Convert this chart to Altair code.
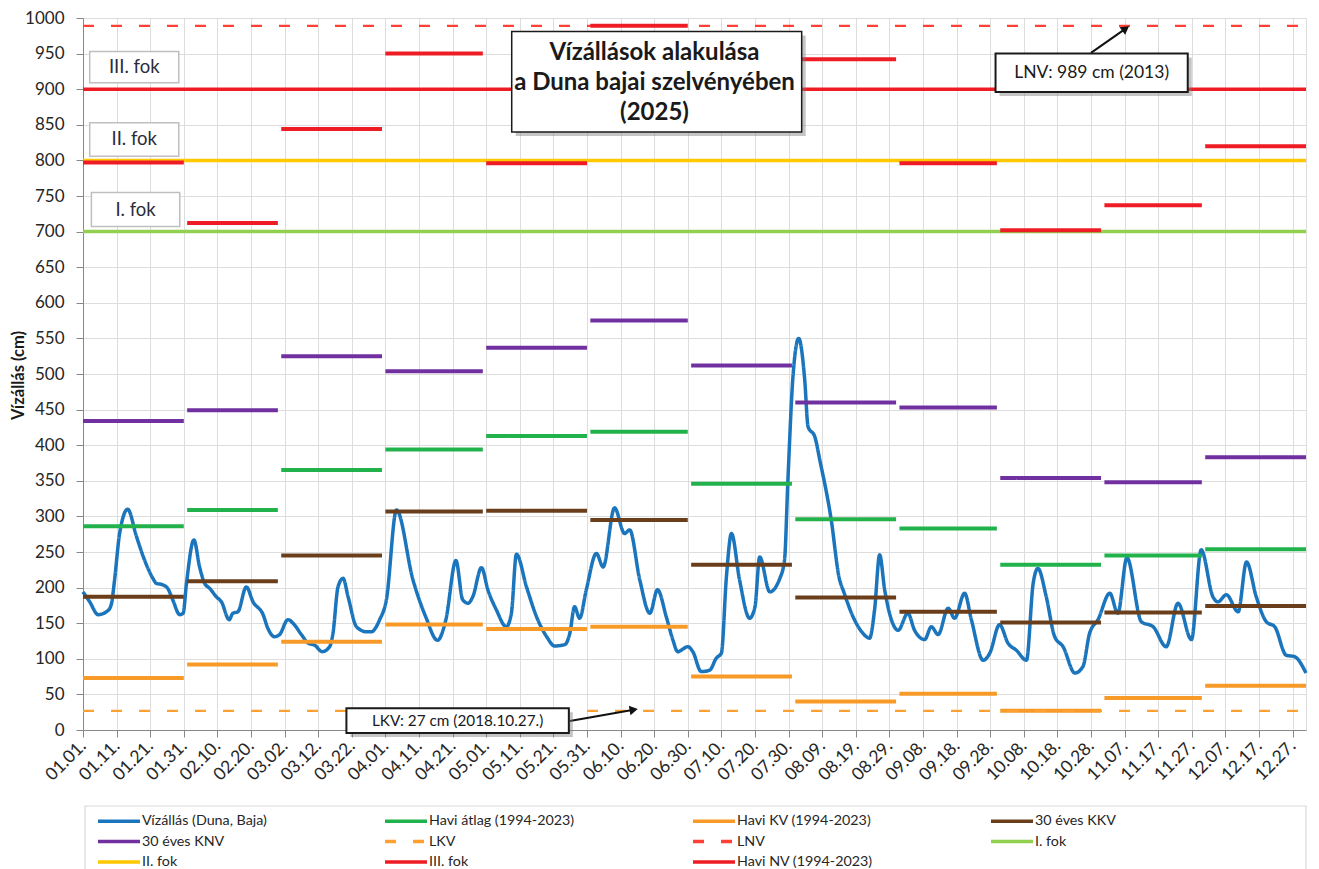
import altair as alt
import pandas as pd

# ---------------- data ----------------
tick_labels = ["01.01.", "01.11.", "01.21.", "01.31.", "02.10.", "02.20.", "03.02.", "03.12.",
               "03.22.", "04.01.", "04.11.", "04.21.", "05.01.", "05.11.", "05.21.", "05.31.",
               "06.10.", "06.20.", "06.30.", "07.10.", "07.20.", "07.30.", "08.09.", "08.19.",
               "08.29.", "09.08.", "09.18.", "09.28.", "10.08.", "10.18.", "10.28.", "11.07.",
               "11.17.", "11.27.", "12.07.", "12.17.", "12.27."]
tick_days = list(range(0, 361, 10))
y_ticks = list(range(0, 1001, 50))

# daily water level (Duna, Baja): day of year (0 = Jan 1) and cm
level_days = [0, 2, 4.5, 7.5, 8.5, 9.4, 10.9, 13.3, 15.9, 17.9, 20.8, 21.8, 23.7, 25.2, 26.7,
              28.8, 29.8, 30.8, 33, 34.7, 36.2, 37.7, 39.7, 41.2, 43.5, 44.6, 46.1, 48.6, 50.6,
              53.6, 55, 57, 58.5, 61, 62.5, 65, 67, 69, 71.2, 73.4, 74.4, 75.9, 77.4, 78.9, 81.4,
              84.3, 85.8, 88.3, 90.3, 93.3, 98.2, 102, 105.5, 108, 111, 113, 114.6, 116, 118.6,
              120.5, 123, 126, 127.5, 129, 132, 135, 138, 140.4, 143.4, 144.9, 146.3, 147.8,
              149.8, 152.8, 154.8, 158.2, 161.2, 162.7, 165.7, 168.7, 171, 173.6, 175.6, 177,
              180, 181.5, 184, 186.5, 188.5, 190, 191.5, 193, 195.4, 198.4, 200, 201.4, 204.4,
              207.4, 208.8, 209.8, 211.3, 213, 214.8, 215.8, 217.8, 219.3, 222.7, 225, 226.5,
              229.2, 232.1, 234.1, 235.6, 237.1, 238.6, 240.6, 242.6, 245.5, 247.5, 250.5, 252.5,
              254.5, 257.5, 259.4, 262.4, 264.4, 267.9, 269.9, 272.8, 275.3, 277.8, 280.8, 282.8,
              284.2, 286.7, 289.2, 291.7, 295.2, 297.6, 299.6, 302.1, 305.6, 308, 310.7, 315,
              318.5, 322.4, 325.9, 329.9, 332.8, 336.3, 337.8, 340.3, 343.8, 346.3, 349.2, 352.2,
              354.7, 358.1, 360.6, 364]
level_values = [194, 180, 162, 168, 178, 211, 276, 310, 272, 244, 213, 206, 204, 199, 183,
                162, 164, 206, 267, 229, 206, 199, 187, 180, 155, 164, 166, 201, 180,
                162, 143, 131, 134, 155, 150, 134, 122, 119, 110, 117, 136, 201, 213, 187, 145,
                138, 138, 155, 183, 309, 211, 159, 126, 155, 238, 183, 178, 187, 228,
                197, 169, 145, 164, 247, 201, 159, 131, 118, 120, 136, 173, 157,
                197, 248, 229, 312, 276, 281, 211, 164, 197, 159, 126, 110,
                117, 110, 82, 84, 101, 108, 215, 276, 211, 157, 173, 243, 194,
                213, 239, 351, 496, 550, 492, 426, 412, 379, 295, 215, 193,
                159, 136, 129, 169, 246, 197, 155, 140, 164, 140, 127, 145,
                134, 171, 157, 192, 155, 98, 108, 148, 122, 112, 98, 206,
                227, 187, 131, 117, 80, 89, 136, 155, 192, 164, 242, 152,
                145, 117, 178, 127, 253, 187, 180, 190, 166, 236, 187, 152,
                145, 105, 103, 80]

month_start = [0, 31, 59, 90, 120, 151, 181, 212, 243, 273, 304, 334]
month_end = [30, 58, 89, 119, 150, 180, 211, 242, 272, 303, 333, 364]

havi_atlag = [286, 309, 365, 394, 413, 419, 346, 296, 283, 232, 245, 254]
havi_kv = [73, 92, 124, 148, 142, 145, 75, 40, 51, 27, 45, 62]
kkv_30 = [187, 209, 245, 307, 308, 295, 232, 186, 166, 151, 165, 174]
knv_30 = [434, 449, 525, 504, 537, 575, 512, 460, 453, 354, 348, 383]
havi_nv = [797, 712, 844, 950, 796, 989, 900, 942, 796, 702, 737, 820]

lkv_value = 27
lnv_value = 989
fok_values = [700, 800, 900]

series = ["Vízállás (Duna, Baja)", "Havi átlag (1994-2023)", "Havi KV (1994-2023)",
          "30 éves KKV", "30 éves KNV", "LKV", "LNV", "I. fok", "II. fok", "III. fok",
          "Havi NV (1994-2023)"]
colors = ["#1B75BC", "#22B24C", "#F89A27", "#6B3E1B", "#7030A0", "#FFA030", "#FF4036",
          "#92D050", "#FFC800", "#EE1C25", "#EE1C25"]
dashes = [[1, 0], [1, 0], [1, 0], [1, 0], [1, 0], [11, 17], [11, 17], [1, 0], [1, 0], [1, 0], [1, 0]]

# annotation boxes (data coordinates: day, cm)
fok_box_labels = ["III. fok", "II. fok", "I. fok"]
fok_box_x = [2, 2, 2.5]
fok_box_x2 = [28.5, 28.5, 28.8]
fok_box_y = [953, 853, 755]
fok_box_y2 = [909, 806, 707]

title_lines = ["Vízállások alakulása", "a Duna bajai szelvényében", "(2025)"]
title_line_y = [951, 909, 867]
title_box = dict(x=127.6, x2=213.9, y=981, y2=840)
title_x = 170.1

lnv_text = "LNV: 989  cm (2013)"
lnv_box = dict(x=271.6, x2=328.8, y=950, y2=896)
lnv_text_pos = dict(tx=300.2, ty=923)
lnv_arrow = dict(x=300, x2=310, y=951, y2=984)

lkv_text = "LKV:  27 cm (2018.10.27.)"
lkv_box = dict(x=78.4, x2=144.6, y=30.5, y2=-4.2)
lkv_text_pos = dict(tx=111.5, ty=13.3)
lkv_arrow = dict(x=144.9, x2=163.5, y=12.6, y2=28.1)

# ---------------- tables ----------------
level_df = pd.DataFrame({"day": level_days, "value": level_values, "series": series[0]})

monthly_rows = []
for name, vals in [(series[1], havi_atlag), (series[2], havi_kv), (series[3], kkv_30),
                   (series[4], knv_30)]:
    for s, e, v in zip(month_start, month_end, vals):
        monthly_rows.append({"series": name, "start": s, "end": e, "value": v})
monthly_df = pd.DataFrame(monthly_rows)
nv_df = pd.DataFrame({"series": series[10], "start": month_start, "end": month_end, "value": havi_nv})

dashed_df = pd.DataFrame({"series": ["LKV", "LNV"], "start": [0, 0], "end": [364, 364],
                          "value": [lkv_value, lnv_value]})
fok_df = pd.DataFrame({"series": ["I. fok", "II. fok", "III. fok"], "start": [0] * 3,
                       "end": [364] * 3, "value": fok_values})

FONT = "Lato"
label_expr = "[" + ",".join("'" + t + "'" for t in tick_labels) + "][round(datum.value/10)]"

x_scale = alt.Scale(domain=[0, 364], nice=False, zero=False)
y_scale = alt.Scale(domain=[0, 1000], nice=False)

leg = alt.Legend(title=None, orient="none", legendX=13, legendY=794, columns=4,
                 direction="horizontal",
                 symbolType="M-1,0H5", symbolSize=196, symbolStrokeWidth=3.5,
                 labelFont=FONT, labelFontSize=14.3, labelColor="#262626", labelLimit=400,
                 columnPadding=111, rowPadding=3.5, padding=0, gridAlign="each",
                 labelOffset=28)
cenc = alt.Color("series:N", scale=alt.Scale(domain=series, range=colors), legend=leg)
denc = alt.StrokeDash("series:N", scale=alt.Scale(domain=series, range=dashes), legend=leg)

x_axis = alt.Axis(values=tick_days, labelExpr=label_expr, labelAngle=-45, labelAlign="right",
                  labelBaseline="middle", labelFont=FONT, labelFontSize=17.5, labelColor="#262626",
                  labelPadding=6, tickSize=7, title=None, grid=True, labelOverlap=False)
y_axis = alt.Axis(values=y_ticks, format="d", labelFont=FONT, labelFontSize=17,
                  labelColor="#262626", labelPadding=12, tickSize=7, grid=True, labelOverlap=False,
                  title="Vízállás (cm)", titleFont=FONT, titleFontSize=16.5, titleFontWeight="bold",
                  titleColor="#1a1a1a", titleX=-65, titleY=357, titleAngle=-90,
                  titleAlign="center", titleBaseline="middle")


def X(field):
    return alt.X(field, scale=x_scale, axis=x_axis)


def Y(field):
    return alt.Y(field, scale=y_scale, axis=y_axis)


level = alt.Chart(level_df).mark_line(strokeWidth=3.5, interpolate="monotone").encode(
    x=X("day:Q"), y=Y("value:Q"), color=cenc, strokeDash=denc)


def seg_layer(df, width):
    return alt.Chart(df).mark_rule(strokeWidth=width, strokeCap="butt").encode(
        x=X("start:Q"), x2="end:Q", y=Y("value:Q"), color=cenc, strokeDash=denc)


monthly = seg_layer(monthly_df, 4)
dashed = seg_layer(dashed_df, 2.2)
fok = seg_layer(fok_df, 3.5)
nv = seg_layer(nv_df, 4)

# fok label boxes
fok_box_df = pd.DataFrame({"label": fok_box_labels, "x": fok_box_x, "x2": fok_box_x2,
                           "y": fok_box_y, "y2": fok_box_y2})
fok_box_df["tx"] = (fok_box_df["x"] + fok_box_df["x2"]) / 2
fok_box_df["ty"] = (fok_box_df["y"] + fok_box_df["y2"]) / 2
fok_rect = alt.Chart(fok_box_df).mark_rect(fill="white", stroke="#BFBFBF", strokeWidth=1.5).encode(
    x=X("x:Q"), x2="x2:Q", y=Y("y:Q"), y2="y2:Q")
fok_text = alt.Chart(fok_box_df).mark_text(font=FONT, fontSize=18.5, color="#2B2B3B").encode(
    x=X("tx:Q"), y=Y("ty:Q"), text="label:N")


def box_layers(box, border):
    bdf = pd.DataFrame([box])
    shadow = alt.Chart(bdf).mark_rect(fill="#7F7F7F", opacity=0.45, xOffset=4, x2Offset=4,
                                      yOffset=4, y2Offset=4).encode(
        x=X("x:Q"), x2="x2:Q", y=Y("y:Q"), y2="y2:Q")
    rect = alt.Chart(bdf).mark_rect(fill="white", stroke="#1a1a1a", strokeWidth=border).encode(
        x=X("x:Q"), x2="x2:Q", y=Y("y:Q"), y2="y2:Q")
    return [shadow, rect]


def text_layer(rows, size, weight):
    tdf = pd.DataFrame(rows)
    return alt.Chart(tdf).mark_text(font=FONT, fontSize=size, fontWeight=weight, color="#1a1a1a",
                                    baseline="middle").encode(
        x=X("tx:Q"), y=Y("ty:Q"), text="text:N")


def arrow_layers(a, angle):
    adf = pd.DataFrame([a])
    line = alt.Chart(adf).mark_rule(color="#111", strokeWidth=2).encode(
        x=X("x:Q"), x2="x2:Q", y=Y("y:Q"), y2="y2:Q")
    head = alt.Chart(adf).mark_point(shape="triangle", filled=True, color="#111", size=90,
                                     angle=angle, opacity=1).encode(x=X("x2:Q"), y=Y("y2:Q"))
    return [line, head]


legend_frame = alt.Chart(pd.DataFrame({"k": [0]})).mark_rect(
    fill="white", stroke="#D9D9D9", strokeWidth=1.2).encode(
    x=alt.value(2), x2=alt.value(1223), y=alt.value(788), y2=alt.value(880))

layers = [legend_frame, level, monthly, dashed, fok, nv, fok_rect, fok_text]
layers += box_layers(title_box, 1.5)
layers += [text_layer([{"tx": title_x, "ty": yy, "text": t}
                       for t, yy in zip(title_lines, title_line_y)], 24, "bold")]
layers += arrow_layers(lnv_arrow, 54)
layers += box_layers(lnv_box, 2)
layers += [text_layer([{**lnv_text_pos, "text": lnv_text}], 17.5, "normal")]
layers += arrow_layers(lkv_arrow, 80)
layers += box_layers(lkv_box, 2)
layers += [text_layer([{**lkv_text_pos, "text": lkv_text}], 15.3, "normal")]

chart = alt.layer(*layers).properties(
    width=1223, height=712,
    autosize=alt.AutoSizeParams(type="none"),
    padding={"left": 75, "top": 10, "right": 5, "bottom": 139},
).configure_axis(
    gridColor="#B3B3B3", gridWidth=1, domainColor="#A6A6A6", tickColor="#A6A6A6",
    labelOverlap=False,
).configure_axisY(
    titleFontSize=16.5, titleFontWeight="bold", titleFont=FONT,
).configure_view(stroke="#A6A6A6", strokeWidth=1).configure(background="white")

chart.save("out.html", embed_options={"renderer": "svg", "actions": False})
